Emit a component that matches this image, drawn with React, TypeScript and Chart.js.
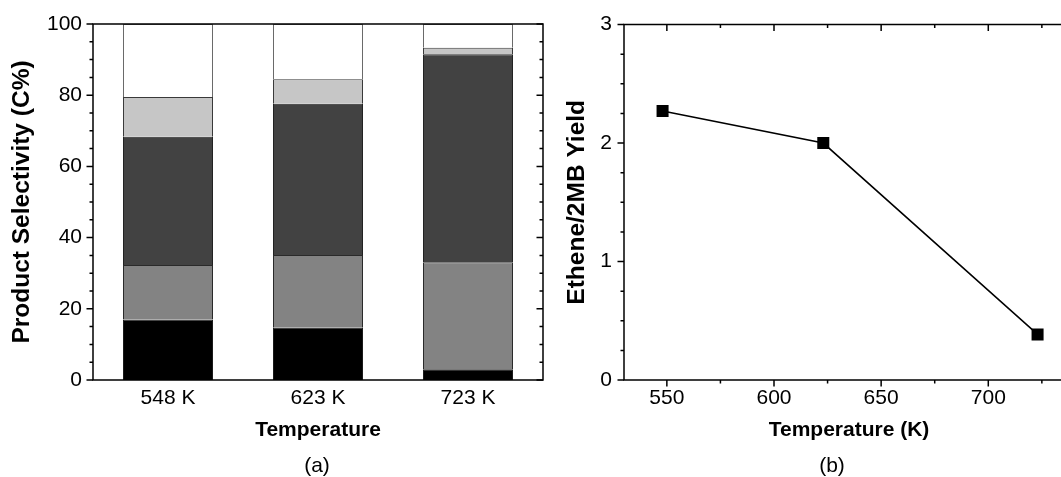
import React, { useEffect, useRef } from 'react';
import { Chart, registerables } from 'chart.js';

Chart.register(...registerables);

const FONT = '"Liberation Sans", Arial, sans-serif';

// Panel (a): stacked product selectivity
const categories = ['548 K', '623 K', '723 K'];
const seriesBlack = [17.0, 14.7, 3.0];
const seriesGray = [15.3, 20.4, 30.1];
const seriesDark = [36.0, 42.5, 58.4];
const seriesLight = [11.2, 6.9, 1.8];
const seriesWhite = [20.5, 15.5, 6.7];
const yTicksA = [0, 20, 40, 60, 80, 100];
const yMinorA = [5, 10, 15, 25, 30, 35, 45, 50, 55, 65, 70, 75, 85, 90, 95];

// Panel (b): ethene / 2MB yield
const temps = [548, 623, 723];
const ratio = [2.27, 2.0, 0.385];
const xTicksB = [550, 600, 650, 700];
const xMinorB = [575, 625, 675, 725];
const yTicksB = [0, 1, 2, 3];
const yMinorB = [0.25, 0.5, 0.75, 1.25, 1.5, 1.75, 2.25, 2.5, 2.75];

type TickSpec = {
  yMajor: number[]; yMinor: number[];
  xMajor?: number[]; xMinor?: number[];
};

const frameTicks = (spec: TickSpec) => ({
  id: 'frameTicks',
  afterDraw(chart: any) {
    const { ctx, chartArea } = chart;
    const { left, right, top, bottom } = chartArea;
    const ys = chart.scales.y;
    const xs = chart.scales.x;
    ctx.save();
    ctx.strokeStyle = '#000';
    ctx.lineWidth = 1.5;
    ctx.beginPath();
    ctx.rect(left, top, right - left, bottom - top);
    ctx.stroke();
    const MAJ = 6.5, MIN = 3.5;
    ctx.beginPath();
    const ytick = (v: number, len: number) => {
      const p = ys.getPixelForValue(v);
      ctx.moveTo(left - len, p); ctx.lineTo(left, p);
      ctx.moveTo(right, p); ctx.lineTo(right - len, p);
    };
    spec.yMajor.forEach((v) => ytick(v, MAJ));
    spec.yMinor.forEach((v) => ytick(v, MIN));
    const xtick = (v: number, len: number) => {
      const p = xs.getPixelForValue(v);
      ctx.moveTo(p, bottom); ctx.lineTo(p, bottom + len);
      ctx.moveTo(p, top); ctx.lineTo(p, top + len);
    };
    (spec.xMajor || []).forEach((v) => xtick(v, MAJ));
    (spec.xMinor || []).forEach((v) => xtick(v, MIN));
    ctx.stroke();
    ctx.restore();
  },
});

const tickFont = { family: FONT, size: 21 };
const titleFont = { family: FONT, size: 21, weight: 'bold' as const };
const yTitleFont = { family: FONT, size: 24.5, weight: 'bold' as const };

function BarPanel() {
  const ref = useRef<HTMLCanvasElement>(null);
  useEffect(() => {
    const mk = (label: string, data: number[], bg: string, bc: string) => ({
      label, data, backgroundColor: bg, borderColor: bc, borderWidth: 1,
      borderSkipped: 'start', barPercentage: 0.6, categoryPercentage: 1,
    });
    const chart = new Chart(ref.current!, {
      type: 'bar',
      data: {
        labels: categories,
        datasets: [
          mk('s1', seriesBlack, '#000000', '#1a1a1a'),
          mk('s2', seriesGray, '#838383', '#2a2a2a'),
          mk('s3', seriesDark, '#424242', '#222222'),
          mk('s4', seriesLight, '#c6c6c6', '#3a3a3a'),
          mk('s5', seriesWhite, '#ffffff', '#6a6a6a'),
        ] as any,
      },
      options: {
        responsive: false,
        animation: false,
        layout: { padding: { left: 0, right: 17, top: 24, bottom: 0 } },
        plugins: { legend: { display: false }, tooltip: { enabled: false } },
        scales: {
          x: {
            stacked: true,
            grid: { display: false, drawTicks: false },
            border: { display: false },
            ticks: { color: '#000', font: tickFont, padding: 6 },
            title: { display: true, text: 'Temperature', color: '#000', font: titleFont, padding: { top: 0, bottom: 34 } },
            afterFit: (s: any) => { s.height = 97; },
          },
          y: {
            stacked: true, min: 0, max: 100,
            grid: { display: false, drawTicks: false },
            border: { display: false },
            ticks: { color: '#000', font: tickFont, padding: 11 },
            title: { display: true, text: 'Product Selectivity (C%)', color: '#000', font: yTitleFont, padding: { top: 8, bottom: 0 } },
            afterFit: (s: any) => { s.width = 93; },
            afterBuildTicks: (s: any) => { s.ticks = yTicksA.map((v) => ({ value: v })); },
          },
        },
      } as any,
      plugins: [frameTicks({ yMajor: yTicksA, yMinor: yMinorA })],
    });
    return () => chart.destroy();
  }, []);
  return <canvas ref={ref} width={560} height={477} style={{ position: 'absolute', left: 0, top: 0 }} />;
}

function LinePanel() {
  const ref = useRef<HTMLCanvasElement>(null);
  useEffect(() => {
    const chart = new Chart(ref.current!, {
      type: 'line',
      data: {
        datasets: [{
          label: 'Ethene/2MB',
          data: temps.map((t, i) => ({ x: t, y: ratio[i] })),
          borderColor: '#000', borderWidth: 1.5,
          pointStyle: 'rect', pointRadius: 8.5, pointBackgroundColor: '#000',
          pointBorderColor: '#000', pointBorderWidth: 0, tension: 0,
        }],
      },
      options: {
        responsive: false,
        animation: false,
        layout: { padding: { left: 0, right: 31, top: 24, bottom: 0 } },
        plugins: { legend: { display: false }, tooltip: { enabled: false } },
        scales: {
          x: {
            type: 'linear', min: 530, max: 740,
            grid: { display: false, drawTicks: false },
            border: { display: false },
            ticks: { color: '#000', font: tickFont, padding: 6 },
            title: { display: true, text: 'Temperature (K)', color: '#000', font: titleFont, padding: { top: 0, bottom: 34 } },
            afterFit: (s: any) => { s.height = 97; },
            afterBuildTicks: (s: any) => { s.ticks = xTicksB.map((v) => ({ value: v })); },
          },
          y: {
            min: 0, max: 3,
            grid: { display: false, drawTicks: false },
            border: { display: false },
            ticks: { color: '#000', font: tickFont, padding: 12 },
            title: { display: true, text: 'Ethene/2MB Yield', color: '#000', font: yTitleFont, padding: { top: 18, bottom: 0 } },
            afterFit: (s: any) => { s.width = 79; },
            afterBuildTicks: (s: any) => { s.ticks = yTicksB.map((v) => ({ value: v })); },
          },
        },
      } as any,
      plugins: [frameTicks({ yMajor: yTicksB, yMinor: yMinorB, xMajor: xTicksB, xMinor: xMinorB })],
    });
    return () => chart.destroy();
  }, []);
  return <canvas ref={ref} width={560} height={477} style={{ position: 'absolute', left: 545, top: 0 }} />;
}

const capStyle = (cx: number): React.CSSProperties => ({
  position: 'absolute', left: cx - 50, width: 100, top: 453, lineHeight: '24px',
  textAlign: 'center', fontFamily: FONT, fontSize: 21, color: '#000',
});

export default function App() {
  return (
    <div style={{ position: 'fixed', left: 0, top: 0, width: 1061, height: 477, overflow: 'hidden', background: '#fff' }}>
      <BarPanel />
      <LinePanel />
      <div style={capStyle(317)}>(a)</div>
      <div style={capStyle(832)}>(b)</div>
    </div>
  );
}
